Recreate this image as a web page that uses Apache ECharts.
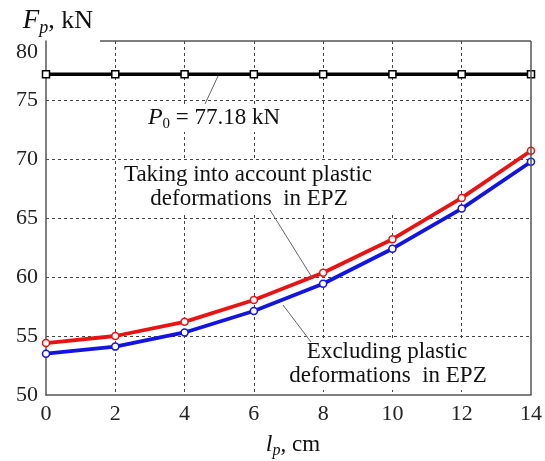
<!DOCTYPE html>
<html><head><meta charset="utf-8">
<script src="https://cdn.jsdelivr.net/npm/echarts@6/dist/echarts.min.js"></script>
<style>html,body{margin:0;padding:0;background:#fff}#c{width:545px;height:461px}</style>
</head><body><div id="c"></div>
<script>
const xValues = [0, 2, 4, 6, 8, 10, 12, 14];
const withPlastic = [54.4, 55.0, 56.2, 58.05, 60.36, 63.2, 66.7, 70.7];
const withoutPlastic = [53.5, 54.1, 55.3, 57.12, 59.43, 62.4, 65.8, 69.77];
const p0Values = [77.18, 77.18, 77.18, 77.18, 77.18, 77.18, 77.18, 77.18];
const yTicks = { min: 50, max: 80, step: 5 };
const xTicks = { min: 0, max: 14, step: 2 };

const FONT = 'Liberation Serif';
const pair = arr => xValues.map((x, i) => [x, arr[i]]);

const chart = echarts.init(document.getElementById('c'), null, { renderer: 'canvas' });
const gridLine = { show: true, showMinLine: false, showMaxLine: false, lineStyle: { color: '#444', type: [3, 3], width: 1 } };
chart.setOption({
  animation: false,
  backgroundColor: '#fff',
  grid: { left: 46, right: 5, top: 41, bottom: 66, containLabel: false },
  xAxis: {
    type: 'value', min: xTicks.min, max: xTicks.max, interval: xTicks.step,
    axisLine: { lineStyle: { color: '#555', width: 1.5 } },
    axisTick: { show: false },
    axisLabel: { fontFamily: FONT, fontSize: 22, color: '#222', margin: 8 },
    splitLine: gridLine
  },
  yAxis: {
    type: 'value', min: yTicks.min, max: yTicks.max, interval: yTicks.step,
    axisLine: { show: true, lineStyle: { color: '#555', width: 1.5 } },
    axisTick: { show: false },
    axisLabel: { fontFamily: FONT, fontSize: 22, color: '#222', margin: 8, verticalAlignMaxLabel: 'top' },
    splitLine: gridLine
  },
  series: [
    {
      type: 'line', data: pair(p0Values), symbol: 'rect', symbolSize: 7,
      lineStyle: { color: '#000', width: 3.5 },
      itemStyle: { color: '#fff', borderColor: '#000', borderWidth: 1.5 }, z: 3
    },
    {
      type: 'line', data: pair(withoutPlastic), symbol: 'circle', symbolSize: 7,
      lineStyle: { color: '#1414e0', width: 3.8 },
      itemStyle: { color: '#fff', borderColor: '#1414e0', borderWidth: 1.5 }, z: 3
    },
    {
      type: 'line', data: pair(withPlastic), symbol: 'circle', symbolSize: 7,
      lineStyle: { color: '#e81414', width: 3.8 },
      itemStyle: { color: '#fff', borderColor: '#e81414', borderWidth: 1.5 }, z: 3
    }
  ]
});

const tl = chart.convertToPixel({ gridIndex: 0 }, [xTicks.min, yTicks.max]);
const br = chart.convertToPixel({ gridIndex: 0 }, [xTicks.max, yTicks.min]);
const border = { stroke: '#555', lineWidth: 1.5 };
const leader = { stroke: '#666', lineWidth: 1 };
const txt = { fontFamily: FONT, fontSize: 23, fill: '#111' };
const rich = {
  i: { fontFamily: FONT, fontSize: 24, fontStyle: 'italic', fill: '#111' },
  s: { fontFamily: FONT, fontSize: 16, fontStyle: 'italic', fill: '#111', padding: [12, 0, 0, 0] },
  n: { fontFamily: FONT, fontSize: 23, fill: '#111' },
  s0: { fontFamily: FONT, fontSize: 15, fill: '#111', padding: [12, 0, 0, 0] },
  I: { fontFamily: FONT, fontSize: 27, fontStyle: 'italic', fill: '#111' },
  S: { fontFamily: FONT, fontSize: 18, fontStyle: 'italic', fill: '#111', padding: [14, 0, 0, 0] },
  N: { fontFamily: FONT, fontSize: 26, fill: '#111' }
};
chart.setOption({
  graphic: [
    { type: 'line', shape: { x1: 100, y1: tl[1], x2: br[0], y2: tl[1] }, style: border, z: 10 },
    { type: 'line', shape: { x1: br[0], y1: tl[1], x2: br[0], y2: br[1] }, style: border, z: 10 },
    // annotation backgrounds
    { type: 'rect', shape: { x: 118, y: 161, width: 278, height: 51 }, style: { fill: '#fff' }, z: 5 },
    { type: 'rect', shape: { x: 290, y: 339, width: 196, height: 51 }, style: { fill: '#fff' }, z: 5 },
    { type: 'rect', shape: { x: 142, y: 106, width: 145, height: 26 }, style: { fill: '#fff' }, z: 5 },
    // leaders
    { type: 'line', shape: { x1: 218, y1: 76, x2: 205, y2: 104 }, style: leader, z: 6 },
    { type: 'line', shape: { x1: 270, y1: 210, x2: 313, y2: 279 }, style: leader, z: 6 },
    { type: 'line', shape: { x1: 283, y1: 305, x2: 311, y2: 342 }, style: leader, z: 6 },
    // texts
    { type: 'text', x: 248, y: 175, style: Object.assign({ text: 'Taking into account plastic', align: 'center', verticalAlign: 'middle' }, txt), z: 7 },
    { type: 'text', x: 249, y: 199, style: Object.assign({ text: 'deformations  in EPZ', align: 'center', verticalAlign: 'middle' }, txt), z: 7 },
    { type: 'text', x: 387, y: 352, style: Object.assign({ text: 'Excluding plastic', align: 'center', verticalAlign: 'middle' }, txt), z: 7 },
    { type: 'text', x: 388, y: 376, style: Object.assign({ text: 'deformations  in EPZ', align: 'center', verticalAlign: 'middle' }, txt), z: 7 },
    { type: 'text', x: 214, y: 118, style: { text: '{i|P}{s0|0}{n| = 77.18 kN}', rich: rich, align: 'center', verticalAlign: 'middle' }, z: 7 },
    { type: 'text', x: 58, y: 21, style: { text: '{I|F}{S|p}{N|, kN}', rich: rich, align: 'center', verticalAlign: 'middle' }, z: 7 },
    { type: 'text', x: 293, y: 445, style: { text: '{i|l}{s|p}{n|, cm}', rich: rich, align: 'center', verticalAlign: 'middle' }, z: 7 }
  ]
});
</script>
</body></html>
